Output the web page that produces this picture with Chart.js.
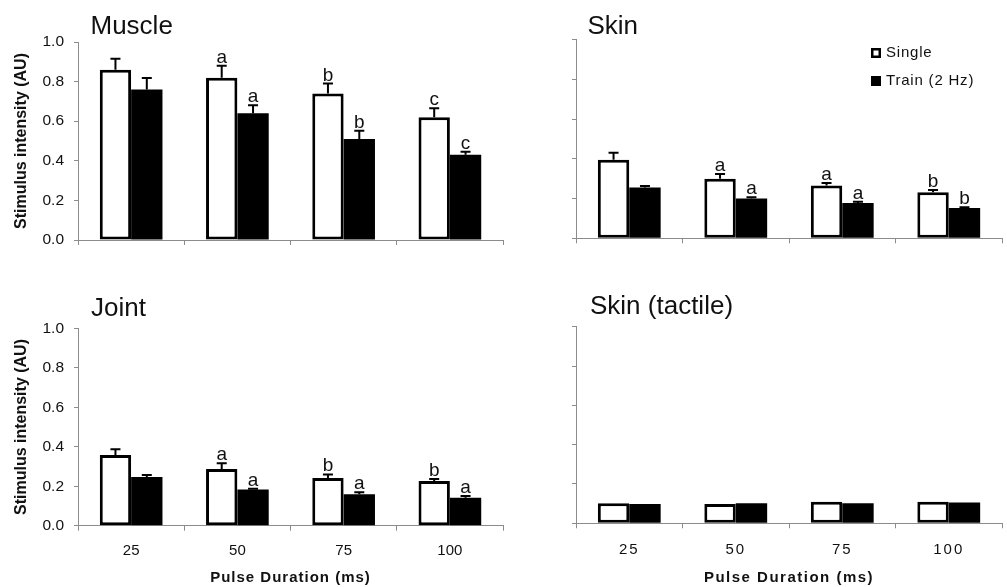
<!DOCTYPE html>
<html>
<head>
<meta charset="utf-8">
<script src="https://cdn.jsdelivr.net/npm/chart.js@4.4.1/dist/chart.umd.min.js"></script>
<style>
  html, body { margin: 0; padding: 0; background: #fff; }
  #wrap { position: relative; width: 1007px; height: 587px; overflow: hidden; }
  #wrap canvas { position: absolute; }
</style>
</head>
<body>
<div id="wrap">
  <canvas id="muscle" width="505" height="262" style="left:0;top:0"></canvas>
  <canvas id="skin" width="502" height="262" style="left:505px;top:0"></canvas>
  <canvas id="joint" width="505" height="325" style="left:0;top:262px"></canvas>
  <canvas id="tactile" width="502" height="325" style="left:505px;top:262px"></canvas>
</div>
<script>
// Categories, series and ticks
const pulseDurations = ['25', '50', '75', '100'];
const seriesNames = ['Single', 'Train (2 Hz)'];
const yTickValues = [0, 0.2, 0.4, 0.6, 0.8, 1.0];

// Muscle afferents: means, SEM and significance letters
const muscleSingle = [0.86, 0.82, 0.74, 0.62];
const muscleSingleSem = [0.056, 0.06, 0.05, 0.046];
const muscleSingleMarks = ['', 'a', 'b', 'c'];
const muscleTrain = [0.76, 0.64, 0.51, 0.43];
const muscleTrainSem = [0.058, 0.04, 0.042, 0.016];
const muscleTrainMarks = ['', 'a', 'b', 'c'];

// Skin afferents
const skinSingle = [0.395, 0.30, 0.265, 0.232];
const skinSingleSem = [0.035, 0.023, 0.013, 0.011];
const skinSingleMarks = ['', 'a', 'a', 'b'];
const skinTrain = [0.255, 0.20, 0.178, 0.152];
const skinTrainSem = [0.008, 0.006, 0.006, 0.004];
const skinTrainMarks = ['', 'a', 'a', 'b'];

// Joint afferents
const jointSingle = [0.358, 0.287, 0.242, 0.226];
const jointSingleSem = [0.029, 0.029, 0.018, 0.011];
const jointSingleMarks = ['', 'a', 'b', 'b'];
const jointTrain = [0.247, 0.184, 0.159, 0.142];
const jointTrainSem = [0.01, 0.003, 0.01, 0.008];
const jointTrainMarks = ['', 'a', 'a', 'a'];

// Tactile skin afferents
const tactileSingle = [0.102, 0.098, 0.11, 0.11];
const tactileTrain = [0.098, 0.102, 0.102, 0.106];

Chart.defaults.font.family = "'Liberation Sans', Arial, sans-serif";
Chart.defaults.color = '#111';

const AXIS = '#8c8c8c';
const FONT = "'Liberation Sans', Arial, sans-serif";

// One-sided SEM whiskers plus letters above them
const errorBars = {
  id: 'errorBars',
  afterDatasetsDraw(chart) {
    const ctx = chart.ctx;
    const yScale = chart.scales.y;
    chart.data.datasets.forEach((ds, i) => {
      const meta = chart.getDatasetMeta(i);
      meta.data.forEach((bar, j) => {
        const v = ds.data[j];
        const e = ds.sem ? ds.sem[j] : 0;
        let top = bar.y;
        ctx.save();
        ctx.strokeStyle = '#000';
        ctx.lineWidth = 2;
        if (e > 0) {
          top = yScale.getPixelForValue(v + e);
          ctx.beginPath();
          ctx.moveTo(bar.x, bar.y);
          ctx.lineTo(bar.x, top);
          ctx.moveTo(bar.x - 5, top);
          ctx.lineTo(bar.x + 5, top);
          ctx.stroke();
        }
        const m = ds.marks ? ds.marks[j] : '';
        if (m) {
          ctx.font = '19px ' + FONT;
          ctx.fillStyle = '#111';
          ctx.textAlign = 'center';
          ctx.textBaseline = 'alphabetic';
          ctx.fillText(m, bar.x, top - 3);
        }
        ctx.restore();
      });
    });
  }
};

// Panel heading in the upper left
const panelTitle = {
  id: 'panelTitle',
  afterDraw(chart, args, opts) {
    const ctx = chart.ctx;
    ctx.save();
    ctx.font = '26px ' + FONT;
    ctx.fillStyle = '#111';
    ctx.textAlign = 'left';
    ctx.textBaseline = 'alphabetic';
    ctx.fillText(opts.text, opts.x, opts.y);
    ctx.restore();
  }
};

// Letter spacing for the x-axis labels and title
const spacedText = {
  id: 'spacedText',
  beforeDraw(chart, args, opts) {
    const s = chart.scales.x;
    if (!s || s.__spaced) return;
    s.__spaced = true;
    const wrap = (name, sp) => {
      const orig = s[name];
      s[name] = function (...a) {
        const c = this.ctx;
        const prev = c.letterSpacing;
        c.letterSpacing = sp;
        try { return orig.apply(this, a); } finally { c.letterSpacing = prev; }
      };
    };
    if (opts.title) wrap('drawTitle', opts.title);
    if (opts.ticks) wrap('drawLabels', opts.ticks);
  }
};

// Key with a square swatch per series
const keyBox = {
  id: 'keyBox',
  afterDraw(chart, args, opts) {
    const ctx = chart.ctx;
    chart.data.datasets.forEach((ds, i) => {
      const cy = opts.y + i * opts.gap;
      ctx.save();
      ctx.fillStyle = ds.backgroundColor;
      ctx.fillRect(opts.x, cy - 5, 10, 10);
      ctx.strokeStyle = '#000';
      ctx.lineWidth = 2.5;
      ctx.strokeRect(opts.x + 1.25, cy - 3.75, 7.5, 7.5);
      ctx.letterSpacing = '0.8px';
      ctx.font = '15px ' + FONT;
      ctx.fillStyle = '#111';
      ctx.textAlign = 'left';
      ctx.textBaseline = 'middle';
      ctx.fillText(ds.label, opts.x + 15, cy);
      ctx.restore();
    });
  }
};

function panel(id, cfg) {
  const plugins = [errorBars, panelTitle, spacedText];
  if (cfg.key) plugins.push(keyBox);
  return new Chart(document.getElementById(id), {
    type: 'bar',
    data: {
      labels: pulseDurations,
      datasets: [
        {
          label: seriesNames[0], data: cfg.single, sem: cfg.singleSem, marks: cfg.singleMarks,
          backgroundColor: '#fff', borderColor: '#000', borderWidth: 3, borderSkipped: false,
          categoryPercentage: 0.59, barPercentage: 1.0
        },
        {
          label: seriesNames[1], data: cfg.train, sem: cfg.trainSem, marks: cfg.trainMarks,
          backgroundColor: '#000', borderColor: '#000', borderWidth: 0, borderSkipped: false,
          categoryPercentage: 0.59, barPercentage: 1.0
        }
      ]
    },
    options: {
      responsive: false,
      animation: false,
      devicePixelRatio: 1,
      layout: { padding: { left: 0, top: cfg.top, right: cfg.right, bottom: 0 } },
      plugins: {
        legend: { display: false },
        tooltip: { enabled: false },
        panelTitle: { text: cfg.title, x: cfg.titleX, y: cfg.titleY },
        spacedText: cfg.spacing || {},
        keyBox: cfg.key || {}
      },
      scales: {
        x: {
          grid: { display: true, drawOnChartArea: false, drawTicks: true, tickLength: 5, color: AXIS, offset: true },
          border: { display: true, color: AXIS, width: 1 },
          ticks: { display: cfg.bottomRow, font: { size: 15 }, padding: cfg.tickPad || 10, color: '#111' },
          title: {
            display: cfg.bottomRow, text: 'Pulse Duration (ms)',
            font: { size: 15, weight: 'bold' }, padding: { top: 0, bottom: 0 }, color: '#111'
          },
          afterFit: s => { s.height = cfg.xHeight; }
        },
        y: {
          min: 0, max: 1,
          afterBuildTicks: s => { s.ticks = yTickValues.map(v => ({ value: v })); },
          grid: { display: true, drawOnChartArea: false, drawTicks: true, tickLength: 4, color: AXIS },
          border: { display: true, color: AXIS, width: 1 },
          ticks: { display: cfg.leftCol, font: { size: 15.5 }, padding: 10, color: '#111', callback: v => v.toFixed(1) },
          title: {
            display: cfg.leftCol, text: 'Stimulus intensity (AU)',
            font: { size: 16, weight: 'bold' }, padding: { top: 12, bottom: 0 }, color: '#111'
          },
          afterFit: s => { s.width = cfg.yWidth; }
        }
      }
    },
    plugins
  });
}

panel('muscle', {
  title: 'Muscle', titleX: 90.5, titleY: 33.5,
  single: muscleSingle, singleSem: muscleSingleSem, singleMarks: muscleSingleMarks,
  train: muscleTrain, trainSem: muscleTrainSem, trainMarks: muscleTrainMarks,
  top: 42, right: 2, xHeight: 22, yWidth: 78, leftCol: true, bottomRow: false
});

panel('skin', {
  title: 'Skin', titleX: 82.5, titleY: 33.5,
  single: skinSingle, singleSem: skinSingleSem, singleMarks: skinSingleMarks,
  train: skinTrain, trainSem: skinTrainSem, trainMarks: skinTrainMarks,
  top: 39.5, right: 5, xHeight: 23.7, yWidth: 71, leftCol: false, bottomRow: false,
  key: { x: 366, y: 53, gap: 28 }
});

panel('joint', {
  title: 'Joint', titleX: 91, titleY: 54,
  single: jointSingle, singleSem: jointSingleSem, singleMarks: jointSingleMarks,
  train: jointTrain, trainSem: jointTrainSem, trainMarks: jointTrainMarks,
  top: 66.3, right: 2, xHeight: 61.3, yWidth: 78, leftCol: true, bottomRow: true, tickPad: 11,
  spacing: { title: '1px' }
});

panel('tactile', {
  title: 'Skin (tactile)', titleX: 85, titleY: 51.5,
  single: tactileSingle, train: tactileTrain,
  top: 64.7, right: 5, xHeight: 63.7, yWidth: 71, leftCol: false, bottomRow: true, tickPad: 12.5,
  spacing: { title: '1.5px', ticks: '2px' }
});
</script>
</body>
</html>
